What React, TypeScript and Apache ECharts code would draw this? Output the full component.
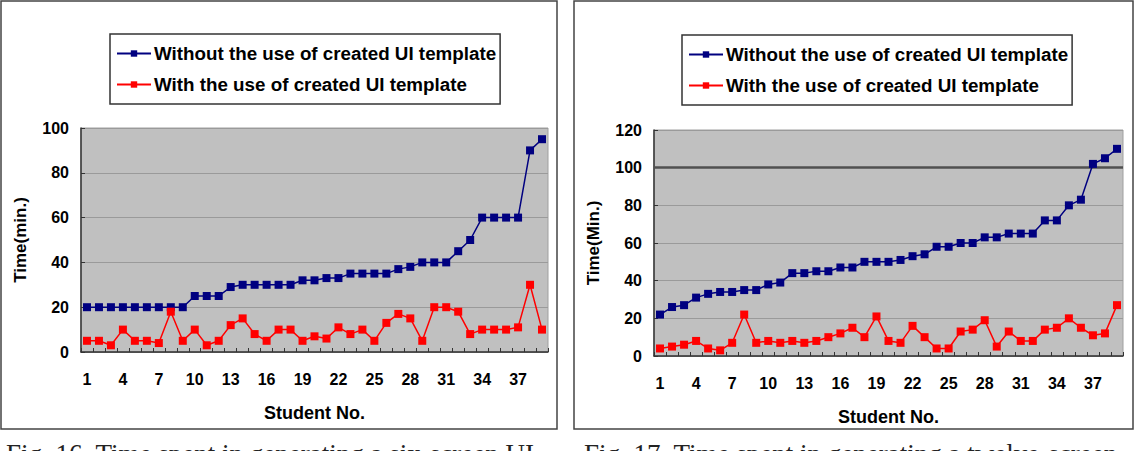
import React, { useEffect, useRef } from "react";
import * as echarts from "echarts";

const students = [
  "1","2","3","4","5","6","7","8","9","10","11","12","13","14","15","16","17","18","19","20",
  "21","22","23","24","25","26","27","28","29","30","31","32","33","34","35","36","37","38","39",
];

const nameWithout = "Without the use of created UI template";
const nameWith = "With the use of created UI template";

// Fig. 16: six-screen UI
const sixWithout = [20,20,20,20,20,20,20,20,20,25,25,25,29,30,30,30,30,30,32,32,33,33,35,35,35,35,37,38,40,40,40,45,50,60,60,60,60,90,95];
const sixWith = [5,5,3,10,5,5,4,18,5,10,3,5,12,15,8,5,10,10,5,7,6,11,8,10,5,13,17,15,5,20,20,18,8,10,10,10,11,30,10];

// Fig. 17: twelve-screen UI
const twelveWithout = [22,26,27,31,33,34,34,35,35,38,39,44,44,45,45,47,47,50,50,50,51,53,54,58,58,60,60,63,63,65,65,65,72,72,80,83,102,105,110];
const twelveWith = [4,5,6,8,4,3,7,22,7,8,7,8,7,8,10,12,15,10,21,8,7,16,10,4,4,13,14,19,5,13,8,8,14,15,20,15,11,12,27];

const sixTicks = [0, 20, 40, 60, 80, 100];
const twelveTicks = [0, 20, 40, 60, 80, 100, 120];
const highlightLine = 100;

const caption16 = "Fig. 16. Time spent in generating a six-screen UI";
const caption17 = "Fig. 17. Time spent in generating a twelve-screen";

const FONT = "'Liberation Sans', Arial, sans-serif";
const BLUE = "#000080";
const RED = "#ff0000";

export default function App() {
  const ref = useRef<HTMLDivElement>(null);
  useEffect(() => {
    if (!ref.current) return;
    const chart = echarts.init(ref.current, undefined, { renderer: "svg" });

    const xAxisBase = (gridIndex: number) => ({
      type: "category",
      gridIndex,
      data: students,
      boundaryGap: true,
      name: "Student No.",
      nameLocation: "middle",
      nameGap: 52,
      nameTextStyle: { fontFamily: FONT, fontWeight: "bold", fontSize: 18, color: "#000" },
      axisLine: { show: true, lineStyle: { color: "#333", width: 1.5 } },
      axisTick: { show: true, inside: true, length: 4, interval: 0, lineStyle: { color: "#333" } },
      axisLabel: { interval: 2, margin: 19, fontFamily: FONT, fontWeight: "bold", fontSize: 16, color: "#000" },
      splitLine: { show: false },
    });

    const yAxisBase = (gridIndex: number, ticks: number[], name: string) => ({
      type: "value",
      gridIndex,
      min: ticks[0],
      max: ticks[ticks.length - 1],
      interval: ticks[1] - ticks[0],
      name,
      nameLocation: "middle",
      nameGap: 52,
      nameTextStyle: { fontFamily: FONT, fontWeight: "bold", fontSize: 17, color: "#000" },
      axisLine: { show: true, lineStyle: { color: "#333", width: 1.5 } },
      axisTick: { show: true, inside: true, length: 4, lineStyle: { color: "#333" } },
      axisLabel: { margin: 12, fontFamily: FONT, fontWeight: "bold", fontSize: 16, color: "#000" },
      splitLine: { show: true, lineStyle: { color: "#9a9a9a", width: 1 } },
    });

    const lineSeries = (name: string, data: number[], color: string, idx: number, extra: any = {}) => ({
      type: "line",
      name,
      xAxisIndex: idx,
      yAxisIndex: idx,
      data,
      symbol: "rect",
      symbolSize: 8,
      showAllSymbol: true,
      lineStyle: { color, width: 1.5 },
      itemStyle: { color },
      ...extra,
    });

    const legendBase = (left: number, top: number) => ({
      orient: "vertical",
      left,
      top,
      data: [nameWithout, nameWith],
      itemWidth: 34,
      itemHeight: 8,
      itemGap: 12,
      padding: [10, 4, 10, 6],
      borderColor: "#333",
      borderWidth: 1.5,
      selectedMode: false,
      textStyle: { fontFamily: FONT, fontWeight: "bold", fontSize: 18.8, color: "#000", padding: [0, 0, 0, -2] },
    });

    chart.setOption({
      animation: false,
      backgroundColor: "#fff",
      grid: [
        { left: 81, top: 128, width: 467, height: 224, show: true, backgroundColor: "#c0c0c0", borderColor: "#a0a0a0", borderWidth: 1 },
        { left: 654, top: 130, width: 469, height: 226, show: true, backgroundColor: "#c0c0c0", borderColor: "#a0a0a0", borderWidth: 1 },
      ],
      legend: [legendBase(110, 34), legendBase(682, 35)],
      xAxis: [xAxisBase(0), xAxisBase(1)],
      yAxis: [yAxisBase(0, sixTicks, "Time(min.)"), yAxisBase(1, twelveTicks, "Time(Min.)")],
      series: [
        lineSeries(nameWithout, sixWithout, BLUE, 0),
        lineSeries(nameWith, sixWith, RED, 0),
        lineSeries(nameWithout, twelveWithout, BLUE, 1, {
          markLine: {
            silent: true,
            symbol: "none",
            label: { show: false },
            lineStyle: { color: "#505050", width: 2.5, type: "solid" },
            data: [{ yAxis: highlightLine }],
            z: 1,
          },
        }),
        lineSeries(nameWith, twelveWith, RED, 1),
      ],
      graphic: [
        { type: "rect", shape: { x: 1, y: 1, width: 556, height: 428 }, style: { fill: "none", stroke: "#444", lineWidth: 1.5 }, silent: true },
        { type: "rect", shape: { x: 574, y: 1, width: 559, height: 428 }, style: { fill: "none", stroke: "#444", lineWidth: 1.5 }, silent: true },
        { type: "text", left: 6, top: 440, style: { text: caption16, font: "27px 'Liberation Serif', 'Times New Roman', serif", fill: "#222" }, silent: true },
        { type: "text", left: 584, top: 440, style: { text: caption17, font: "27px 'Liberation Serif', 'Times New Roman', serif", fill: "#222" }, silent: true },
      ],
    });
    return () => chart.dispose();
  }, []);
  return <div ref={ref} style={{ position: "absolute", left: 0, top: 0, width: 1137, height: 451 }} />;
}
